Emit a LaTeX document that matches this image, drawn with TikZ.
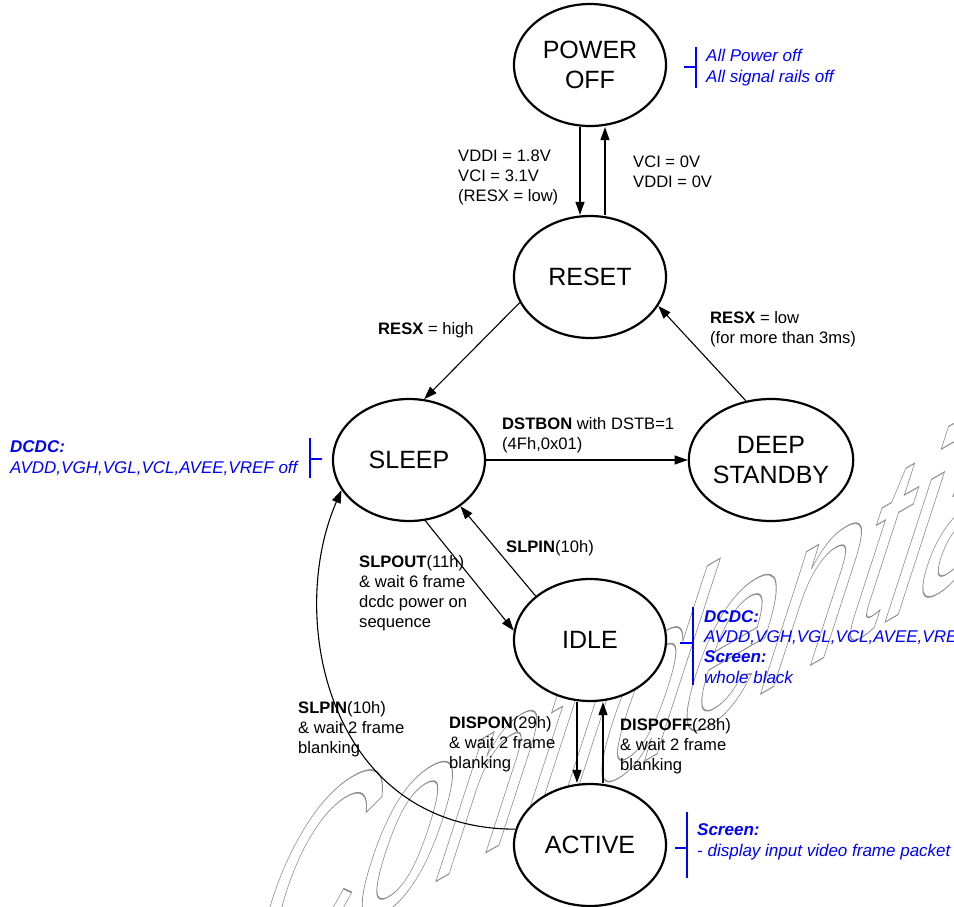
\documentclass[tikz,border=0pt]{standalone}
\usepackage{fontspec}
\setmainfont{Liberation Sans}
\usetikzlibrary{shapes.geometric,arrows.meta}
\begin{document}
\begin{tikzpicture}[x=1pt,y=-1pt,
  stnode/.style={ellipse,draw,line width=2.2pt,fill=white,minimum width=152pt,minimum height=122pt,inner sep=0pt,align=center,font=\fontsize{25}{30}\selectfont},
  arr/.style={line width=1.1pt,-{Triangle[length=13pt,width=9pt]}},
  lbl/.style={inner sep=0pt,anchor=base west,align=left,font=\fontsize{16.6}{19.8}\selectfont},
  note/.style={inner sep=0pt,anchor=base west,align=left,text=blue,font=\fontsize{17}{20.3}\selectfont\itshape},
  brk/.style={blue,line width=1.4pt},
  wm/.style={text=black!45,inner sep=0pt,font=\fontsize{190}{190}\selectfont}
]
\useasboundingbox (0,0) rectangle (954,906);
% watermark
\node[wm,rotate=30,xslant=1.11,xscale=0.91,transform shape,anchor=base west] (wmark) at (234,998)
  {\special{pdf:literal direct 1 Tr 1 w}Confidential\special{pdf:literal direct 0 Tr}};

% states
\node[stnode] (poweroff) at (590,65) {POWER\\OFF};
\node[stnode] (reset) at (590,277) {RESET};
\node[stnode] (sleep) at (409,460) {SLEEP};
\node[stnode] (deep) at (771,460) {DEEP\\STANDBY};
\node[stnode] (idle) at (590,640) {IDLE};
\node[stnode] (active) at (590,845) {ACTIVE};

% transitions
\draw[arr] ([xshift=-10pt]poweroff.south) -- ([xshift=-10pt]reset.north);
\draw[arr] ([xshift=15pt]reset.north) -- ([xshift=15pt]poweroff.south);
\draw[arr] (reset.200) -- (sleep.76);
\draw[arr] (deep.113) -- (reset.337);
\draw[arr] (sleep.east) -- (deep.west);
\draw[arr] (sleep.285) -- (idle.173);
\draw[arr] (idle.141) -- (sleep.318);
\draw[arr] ([xshift=-13pt]idle.south) -- ([xshift=-13pt]active.north);
\draw[arr] ([xshift=13pt]active.north) -- ([xshift=13pt]idle.south);
\draw[arr] (active.168) .. controls (330,829) and (285,620) .. (sleep.204);

% transition labels (anchor = baseline of last line)
\node[lbl] (l1) at (458,201) {VDDI = 1.8V\\VCI = 3.1V\\(RESX = low)};
\node[lbl] (l2) at (633,187) {VCI = 0V\\VDDI = 0V};
\node[lbl] (l3) at (378,334) {\textbf{RESX} = high};
\node[lbl] (l4) at (710,343) {\textbf{RESX} = low\\(for more than 3ms)};
\node[lbl] (l5) at (502,449) {\textbf{DSTBON} with DSTB=1\\(4Fh,0x01)};
\node[lbl] (l6) at (506,552) {\textbf{SLPIN}(10h)};
\node[lbl] (l7) at (359,627) {\textbf{SLPOUT}(11h)\\\& wait 6 frame\\dcdc power on\\sequence};
\node[lbl] (l8) at (298,753) {\textbf{SLPIN}(10h)\\\& wait 2 frame\\blanking};
\node[lbl] (l9) at (449,768) {\textbf{DISPON}(29h)\\\& wait 2 frame\\blanking};
\node[lbl] (l10) at (620,770) {\textbf{DISPOFF}(28h)\\\& wait 2 frame\\blanking};

% notes
\draw[brk] (696,47) -- (696,88);
\draw[brk] (684,67) -- (696,67);
\node[note] (n1) at (706,82) {All Power off\\All signal rails off};

\draw[brk] (310,438) -- (310,478);
\draw[brk] (310,459) -- (322,459);
\node[note] (n2) at (10,473) {\textbf{DCDC:}\\AVDD,VGH,VGL,VCL,AVEE,VREF off};

\draw[brk] (693,607) -- (693,685);
\draw[brk] (680,643) -- (693,643);
\node[note] (n3) at (704,683) {\textbf{DCDC:}\\AVDD,VGH,VGL,VCL,AVEE,VREF\\\textbf{Screen:}\\whole black};

\draw[brk] (687,812) -- (687,878);
\draw[brk] (675,848) -- (687,848);
\node[note] (n4) at (697,856) {\textbf{Screen:}\\- display input video frame packet};
\end{tikzpicture}
\end{document}
